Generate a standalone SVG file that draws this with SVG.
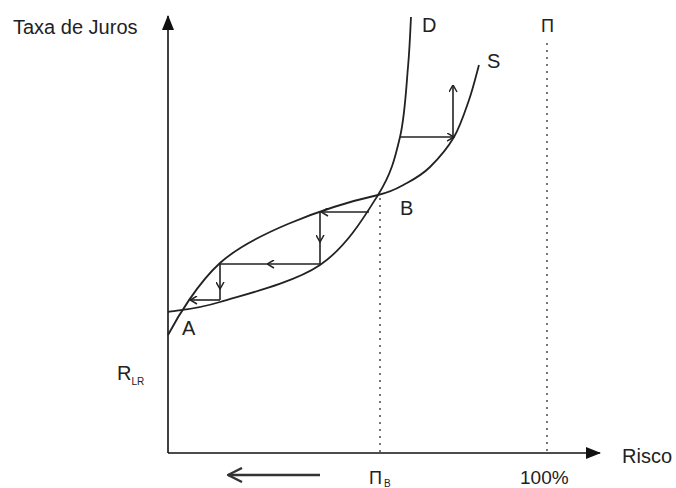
<svg xmlns="http://www.w3.org/2000/svg" width="676" height="488" viewBox="0 0 676 488">
<style>
text{font-family:"Liberation Sans",Arial,sans-serif;font-size:20px;fill:#222}
.sub{font-size:10px}
.curve{fill:none;stroke:#222;stroke-width:1.8}
.axis{fill:none;stroke:#111;stroke-width:1.6}
.web{fill:none;stroke:#222;stroke-width:1.6}
.dot{fill:none;stroke:#555;stroke-width:1.6;stroke-dasharray:2 5}
</style>
<defs>
<marker id="tri" viewBox="0 0 15 12" refX="14" refY="6" markerWidth="15" markerHeight="12" markerUnits="userSpaceOnUse" orient="auto">
<path d="M0,0 L15,6 L0,12 Z" fill="#111"/>
</marker>
<marker id="open" viewBox="0 0 8 9" refX="7.5" refY="4.5" markerWidth="8" markerHeight="9" markerUnits="userSpaceOnUse" orient="auto">
<path d="M0.5,0.5 L7.5,4.5 L0.5,8.5" fill="none" stroke="#222" stroke-width="1.5"/>
</marker>
<marker id="big" viewBox="0 0 16 16" refX="15" refY="8" markerWidth="16" markerHeight="16" markerUnits="userSpaceOnUse" orient="auto">
<path d="M1,1 L15,8 L1,15" fill="none" stroke="#333" stroke-width="2.4"/>
</marker>
</defs>
<g id="axes">
<line class="axis" x1="168" y1="453" x2="168" y2="16" marker-end="url(#tri)"/>
<line class="axis" x1="168" y1="453" x2="600" y2="453" marker-end="url(#tri)"/>
</g>
<g id="guides">
<line class="dot" x1="380" y1="198" x2="380" y2="453"/>
<line class="dot" x1="547" y1="43" x2="547" y2="453"/>
</g>
<g id="curve-D">
<path class="curve" d="M168,312 C176.7,310.3 194.7,309.8 220,302 C245.3,294.2 293.7,282.8 320,265 C346.3,247.2 364.7,216.3 378,195 C391.3,173.7 395,158.3 400,137 C405,115.7 406.2,87 408,67 C409.8,47 410.5,25.3 411,17"/>
</g>
<g id="curve-S">
<path class="curve" d="M168,335 C178,316 198,283 220,263 C250,236 320,208 378,195 C392.6,191.7 398.3,187.7 407,183 C415.7,178.3 422.2,174.7 430,167 C437.8,159.3 447.5,148.2 454,137 C460.5,125.8 464.8,112 469,100 C473.2,88 477.3,70.8 479,65"/>
</g>
<g id="connectors">
<path class="web" d="M369,212 L321,212" marker-end="url(#open)"/>
<path class="web" d="M320,212 L320,242 L320,264" marker-mid="url(#open)"/>
<path class="web" d="M320,264 L267,264 L220,264" marker-mid="url(#open)"/>
<path class="web" d="M220,264 L220,289 L220,300" marker-mid="url(#open)"/>
<path class="web" d="M220,300 L190,300" marker-end="url(#open)"/>
<path class="web" d="M400,137 L454,137" marker-end="url(#open)"/>
<path class="web" d="M453,137 L453,85" marker-end="url(#open)"/>
<path d="M320,475 L228,475" fill="none" stroke="#333" stroke-width="2.4" marker-end="url(#big)"/>
</g>
<g id="labels">
<text x="13" y="34">Taxa de Juros</text>
<text x="422" y="32">D</text>
<text x="487" y="68">S</text>
<text x="541" y="32" style="font-size:18px">Π</text>
<text x="400" y="215">B</text>
<text x="182" y="335">A</text>
<text x="117" y="380">R<tspan class="sub" dy="5">LR</tspan></text>
<text x="369" y="484" style="font-size:18px">Π<tspan class="sub" dy="3" dx="2">B</tspan></text>
<text x="520" y="484" style="font-size:19px">100%</text>
<text x="622" y="463">Risco</text>
</g>
</svg>
